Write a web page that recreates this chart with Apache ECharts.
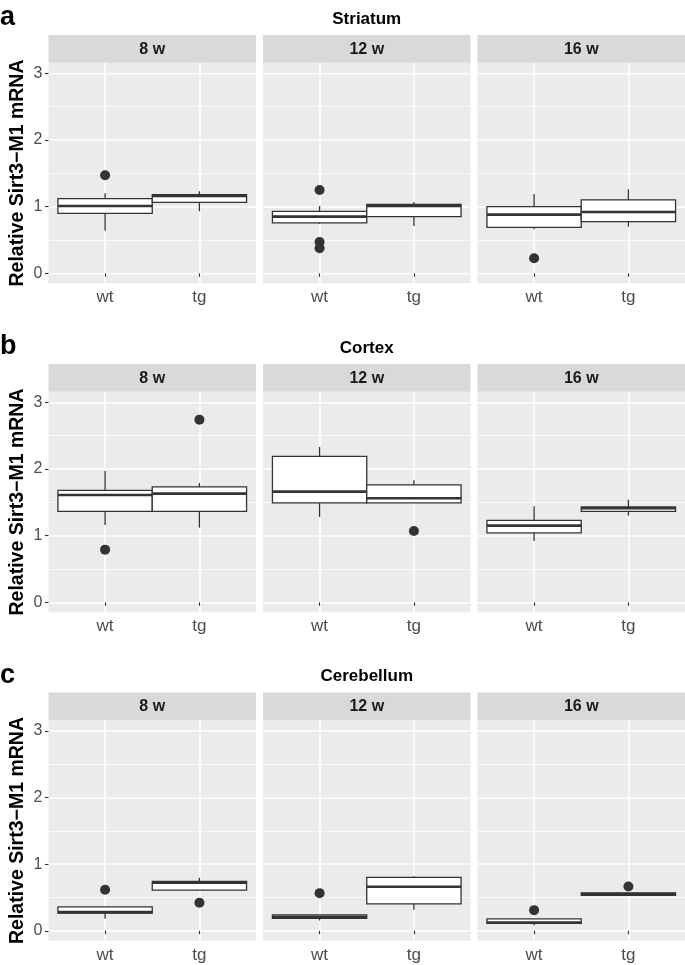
<!DOCTYPE html>
<html>
<head>
<meta charset="utf-8">
<script src="https://cdn.jsdelivr.net/npm/echarts@6/dist/echarts.min.js"></script>
<style>
html,body{margin:0;padding:0;background:#fff;}
#chart{width:685px;height:965px;}
</style>
</head>
<body>
<div id="chart"></div>
<script>
// ---- data ----
const groups = ['wt', 'tg'];
const ages = ['8 w', '12 w', '16 w'];
const regions = ['Striatum', 'Cortex', 'Cerebellum'];
const panelLetters = ['a', 'b', 'c'];
const yTicks = [0, 1, 2, 3];
const yMinorTicks = [0.5, 1.5, 2.5];
const yAxisTitle = 'Relative Sirt3\u2212M1 mRNA';

// box stats per age: [wt, tg], each [lowerWhisker, q1, median, q3, upperWhisker]
const striatumBoxes = [
  [[0.64, 0.90, 1.01, 1.12, 1.20], [0.93, 1.065, 1.16, 1.18, 1.23]],
  [[0.74, 0.755, 0.85, 0.93, 1.01], [0.71, 0.85, 1.01, 1.035, 1.07]],
  [[0.66, 0.69, 0.88, 1.00, 1.19], [0.70, 0.775, 0.92, 1.10, 1.26]]
];
const cortexBoxes = [
  [[1.16, 1.365, 1.61, 1.68, 1.97], [1.12, 1.365, 1.63, 1.73, 1.79]],
  [[1.28, 1.49, 1.66, 2.19, 2.33], [1.49, 1.49, 1.56, 1.76, 1.83]],
  [[0.92, 1.04, 1.15, 1.23, 1.44], [1.30, 1.365, 1.41, 1.43, 1.54]]
];
const cerebellumBoxes = [
  [[0.18, 0.265, 0.28, 0.36, 0.36], [0.61, 0.61, 0.72, 0.74, 0.795]],
  [[0.155, 0.185, 0.21, 0.24, 0.24], [0.315, 0.405, 0.66, 0.80, 0.82]],
  [[0.08, 0.11, 0.125, 0.18, 0.18], [0.53, 0.53, 0.55, 0.57, 0.57]]
];
// outliers per age: list of [group, value]
const striatumOutliers = [
  [['wt', 1.47]],
  [['wt', 1.25], ['wt', 0.47], ['wt', 0.375]],
  [['wt', 0.225]]
];
const cortexOutliers = [
  [['wt', 0.79], ['tg', 2.74]],
  [['tg', 1.07]],
  []
];
const cerebellumOutliers = [
  [['wt', 0.615], ['tg', 0.42]],
  [['wt', 0.565]],
  [['wt', 0.31], ['tg', 0.665]]
];

const allBoxes = [striatumBoxes, cortexBoxes, cerebellumBoxes];
const allOutliers = [striatumOutliers, cortexOutliers, cerebellumOutliers];

// ---- layout ----
const rowOffsets = [0, 329, 657.5];
const colLefts = [48.5, 263, 477.5];
const panelW = 207.5;
const stripTop = 35, stripH = 27.7;
const panelTop = 62.7, panelH = 220.6;
const Y_MIN = -0.15, Y_MAX = 3.159;
const FONT = '"Liberation Sans", Arial, Helvetica, sans-serif';

const grids = [], xAxes = [], yAxes = [], yAxesMinor = [], series = [], graphics = [];

for (let r = 0; r < 3; r++) {
  const off = rowOffsets[r];
  graphics.push({
    type: 'text',
    style: { text: regions[r], fontFamily: FONT, fontWeight: 'bold', fontSize: 17, fill: '#000',
      x: (48.5 + 685) / 2, y: 19 + off, textAlign: 'center', textVerticalAlign: 'middle' }
  });
  graphics.push({
    type: 'text',
    style: { text: panelLetters[r], fontFamily: FONT, fontWeight: 'bold', fontSize: 27, fill: '#000',
      x: 0, y: 18 + off, textAlign: 'left', textVerticalAlign: 'middle' }
  });
  graphics.push({
    type: 'text', x: 18, y: panelTop + panelH / 2 + off, rotation: Math.PI / 2,
    style: { text: yAxisTitle, fontFamily: FONT, fontWeight: 'bold', fontSize: 19.5, fill: '#000',
      x: 0, y: 0, textAlign: 'center', textVerticalAlign: 'middle' }
  });
  for (let c = 0; c < 3; c++) {
    const g = r * 3 + c;
    graphics.push({
      type: 'rect', shape: { x: colLefts[c], y: stripTop + off, width: panelW, height: stripH },
      style: { fill: '#D9D9D9' }, silent: true
    });
    graphics.push({
      type: 'text',
      style: { text: ages[c], fontFamily: FONT, fontWeight: 'bold', fontSize: 16, fill: '#1A1A1A',
        x: colLefts[c] + panelW / 2, y: stripTop + off + stripH / 2 + 0.5, textAlign: 'center', textVerticalAlign: 'middle' }
    });
    grids.push({ left: colLefts[c], top: panelTop + off, width: panelW, height: panelH,
      show: true, backgroundColor: '#EBEBEB', borderWidth: 0 });
    xAxes.push({
      type: 'value', gridIndex: g, min: 0.4, max: 2.6,
      axisLine: { show: false },
      axisTick: { show: true, customValues: [1, 2], length: 3.5, lineStyle: { color: '#333333', width: 1.1 } },
      axisLabel: { show: true, customValues: [1, 2], margin: 6,
        formatter: v => groups[Math.round(v) - 1] || '',
        color: '#4D4D4D', fontSize: 17, fontFamily: FONT },
      splitLine: { show: true, lineStyle: { color: '#FFFFFF', width: 1.6 } }
    });
    yAxes.push({
      type: 'value', gridIndex: g, min: Y_MIN, max: Y_MAX, position: 'left',
      axisLine: { show: false },
      axisTick: { show: c === 0, customValues: yTicks, length: 3.5, lineStyle: { color: '#333333', width: 1.1 } },
      axisLabel: { show: c === 0, customValues: yTicks, margin: 6, color: '#4D4D4D', fontSize: 16, fontFamily: FONT },
      splitLine: { show: true, lineStyle: { color: '#FFFFFF', width: 1.6 } }
    });
    yAxesMinor.push({
      type: 'value', gridIndex: g, min: Y_MIN, max: Y_MAX, position: 'left',
      axisLine: { show: false },
      axisTick: { show: false, customValues: yMinorTicks },
      axisLabel: { show: false, customValues: yMinorTicks },
      splitLine: { show: true, lineStyle: { color: '#FFFFFF', width: 0.8 } }
    });

    const boxData = allBoxes[r][c].map((s, i) => [i + 1].concat(s));
    series.push({
      type: 'custom', xAxisIndex: g, yAxisIndex: g, data: boxData, z: 3,
      renderItem: function (params, api) {
        const x = api.value(0);
        const lw = api.value(1), q1 = api.value(2), md = api.value(3), q3 = api.value(4), hw = api.value(5);
        const pLw = api.coord([x, lw]), pQ1 = api.coord([x, q1]), pMd = api.coord([x, md]),
              pQ3 = api.coord([x, q3]), pHw = api.coord([x, hw]);
        const w = api.size([1, 0])[0];
        const stroke = '#333333';
        return {
          type: 'group',
          children: [
            { type: 'line', shape: { x1: pLw[0], y1: pLw[1], x2: pQ1[0], y2: pQ1[1] }, style: { stroke: stroke, lineWidth: 1.3 } },
            { type: 'line', shape: { x1: pQ3[0], y1: pQ3[1], x2: pHw[0], y2: pHw[1] }, style: { stroke: stroke, lineWidth: 1.3 } },
            { type: 'rect', shape: { x: pQ3[0] - w / 2, y: pQ3[1], width: w, height: pQ1[1] - pQ3[1] },
              style: { fill: '#FFFFFF', stroke: stroke, lineWidth: 1.3 } },
            { type: 'line', shape: { x1: pMd[0] - w / 2, y1: pMd[1], x2: pMd[0] + w / 2, y2: pMd[1] },
              style: { stroke: stroke, lineWidth: 2.6 } }
          ]
        };
      }
    });
    const outData = allOutliers[r][c].map(o => [groups.indexOf(o[0]) + 1, o[1]]);
    series.push({
      type: 'scatter', xAxisIndex: g, yAxisIndex: g, data: outData, z: 4,
      symbol: 'circle', symbolSize: 10, itemStyle: { color: '#333333', opacity: 1 }
    });
  }
}

const yAll = yAxes.concat(yAxesMinor);

const chart = echarts.init(document.getElementById('chart'), null, { renderer: 'canvas' });
chart.setOption({
  animation: false,
  backgroundColor: '#FFFFFF',
  grid: grids,
  xAxis: xAxes,
  yAxis: yAll,
  series: series,
  graphic: graphics
});
</script>
</body>
</html>
